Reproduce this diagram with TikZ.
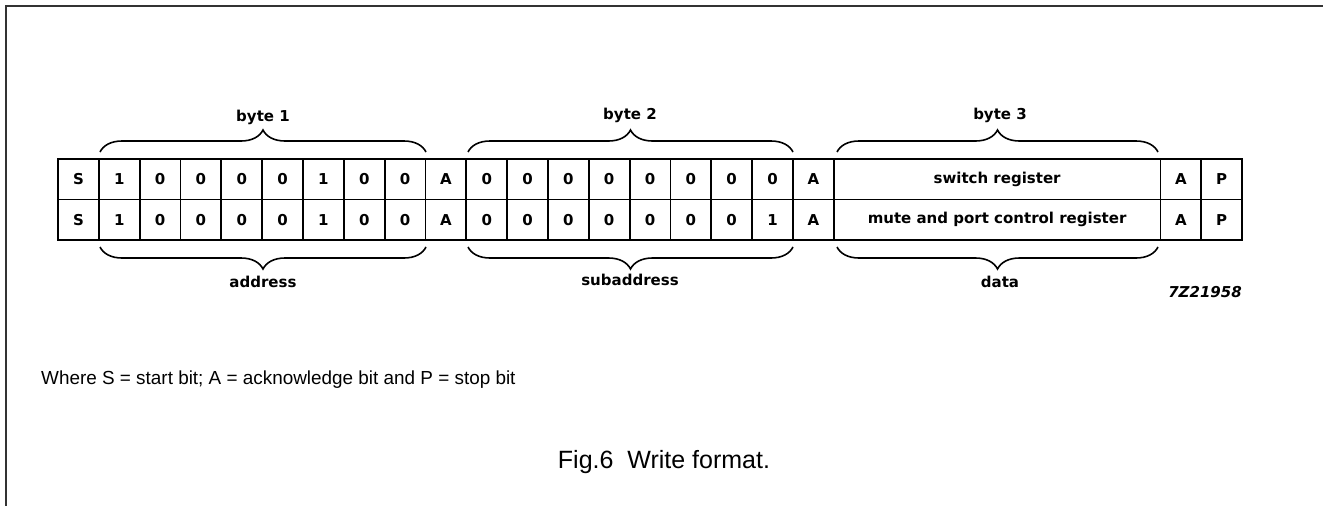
\documentclass[tikz,border=0pt]{standalone}
\usepackage{fontspec}
\setmainfont{Liberation Sans}
\newfontfamily\figfont{DejaVu Sans}
\usetikzlibrary{decorations.pathreplacing}

\tikzset{
  cell/.style={draw,line width=1.8pt,minimum width=40.83pt,minimum height=40.5pt,
    inner sep=0pt,font=\figfont\fontsize{15}{17}\selectfont\bfseries},
  wide/.style={cell,minimum width=326.64pt},
  lbl/.style={font=\figfont\fontsize{15}{17}\selectfont\bfseries},
  brc/.style={decorate,decoration={brace,amplitude=22pt},line width=1.6pt}
}

\begin{document}
\begin{tikzpicture}[x=1pt,y=1pt]
\useasboundingbox (0,0) rectangle (1323,-506);
\draw[line width=2pt,color=black!80] (6,-506) -- (6,-6) -- (1323,-6);

\foreach \b [count=\i from 0] in {S,1,0,0,0,0,1,0,0,A,0,0,0,0,0,0,0,0,A}
  \node[cell] (ra\i) at ({58+(\i+0.5)*40.83},-179.25) {\b};
\node[wide] (raReg) at ({58+23*40.83},-179.25) {switch register};
\node[cell] (raAck) at ({58+27.5*40.83},-179.25) {A};
\node[cell] (raStop) at ({58+28.5*40.83},-179.25) {P};

\foreach \b [count=\i from 0] in {S,1,0,0,0,0,1,0,0,A,0,0,0,0,0,0,0,1,A}
  \node[cell] (rb\i) at ({58+(\i+0.5)*40.83},-219.75) {\b};
\node[wide] (rbReg) at ({58+23*40.83},-219.75) {mute and port control register};
\node[cell] (rbAck) at ({58+27.5*40.83},-219.75) {A};
\node[cell] (rbStop) at ({58+28.5*40.83},-219.75) {P};

\draw[brc] (100,-152) -- (426,-152);
\draw[brc] (468,-152) -- (793,-152);
\draw[brc] (837,-152) -- (1158,-152);
\draw[brc] (426,-247) -- (100,-247);
\draw[brc] (793,-247) -- (468,-247);
\draw[brc] (1158,-247) -- (837,-247);

\node[lbl] (byteA) at (263,-117) {byte 1};
\node[lbl] (byteB) at (630,-115) {byte 2};
\node[lbl] (byteC) at (1000,-115) {byte 3};
\node[lbl] (addr) at (263,-282) {address};
\node[lbl] (subaddr) at (630,-280) {subaddress};
\node[lbl] (data) at (1000,-282) {data};
\node[font=\figfont\fontsize{15}{17}\selectfont\bfseries\itshape] (code) at (1205,-292) {7Z21958};

\node[anchor=west,inner sep=0pt,font=\fontsize{18.9}{22}\selectfont] (note) at (41,-380)
  {Where S = start bit; A = acknowledge bit and P = stop bit};
\node[font=\fontsize{25}{28}\selectfont] (caption) at (664,-462) {Fig.6\ \ Write format.};
\end{tikzpicture}
\end{document}
